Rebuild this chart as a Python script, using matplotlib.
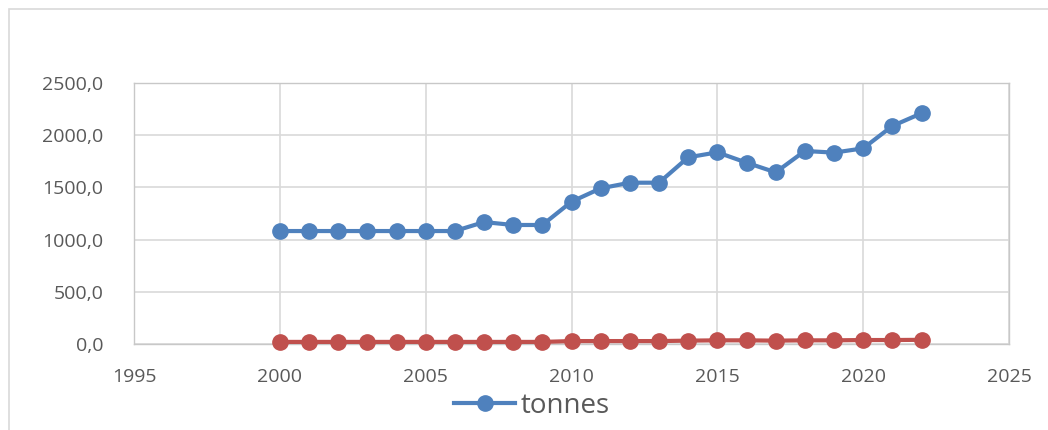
import matplotlib
matplotlib.use("Agg")
import matplotlib.pyplot as plt
from matplotlib.patches import Rectangle
from matplotlib.lines import Line2D
from matplotlib.ticker import FuncFormatter, MultipleLocator

years = list(range(2000, 2023))
tonnes = [1082, 1082, 1082, 1082, 1082, 1082, 1082, 1168, 1140, 1140,
          1363, 1491, 1545, 1545, 1788, 1836, 1737, 1644, 1849, 1833,
          1874, 2088, 2210]
second = [20, 20, 20, 20, 20, 20, 20, 20, 20, 20,
          28, 28, 28, 28, 32, 35, 35, 32, 35, 35,
          38, 38, 40]
legend_label = "tonnes"

blue = "#4F81BD"
red = "#C0504D"
text_gray = "#595959"
grid_gray = "#D9D9D9"

plt.rcParams["font.family"] = ["Open Sans", "DejaVu Sans"]

fig = plt.figure(figsize=(10.48, 4.30), dpi=100)
fig.patch.set_facecolor("white")

# outer chart frame
fig.patches.append(Rectangle((9 / 1048, -0.05), 1.1, 1 - 9 / 430 + 0.05,
                             transform=fig.transFigure, fill=False,
                             edgecolor="#D9D9D9", linewidth=1.2))

ax = fig.add_axes([134 / 1048, 1 - 344 / 430, (1009 - 134) / 1048, (344 - 83) / 430])

ax.plot(years, second, color=red, linewidth=3, marker="o", markersize=11,
        solid_capstyle="round", zorder=3, clip_on=False)
ax.plot(years, tonnes, color=blue, linewidth=3, marker="o", markersize=11,
        solid_capstyle="round", zorder=4, clip_on=False)

ax.set_xlim(1995, 2025)
ax.set_ylim(0, 2500)
ax.xaxis.set_major_locator(MultipleLocator(5))
ax.yaxis.set_major_locator(MultipleLocator(500))
ax.yaxis.set_major_formatter(FuncFormatter(lambda v, p: f"{v:.1f}".replace(".", ",")))

ax.grid(True, color=grid_gray, linewidth=1.2)
ax.set_axisbelow(True)
for s in ax.spines.values():
    s.set_color("#C8C8C8")
    s.set_linewidth(1.0)

ax.tick_params(axis="both", length=0, labelsize=14, colors=text_gray)
ax.tick_params(axis="y", pad=22)
ax.tick_params(axis="x", pad=17)

handle = Line2D([], [], color=blue, linewidth=3, marker="o", markersize=11)
leg = fig.legend([handle], [legend_label], loc="center",
                 bbox_to_anchor=(532 / 1048, 1 - 406 / 430), frameon=False,
                 fontsize=20, handlelength=2.2, handletextpad=0.2)
for t in leg.get_texts():
    t.set_color(text_gray)

fig.savefig("out.png", dpi=100, facecolor="white")
